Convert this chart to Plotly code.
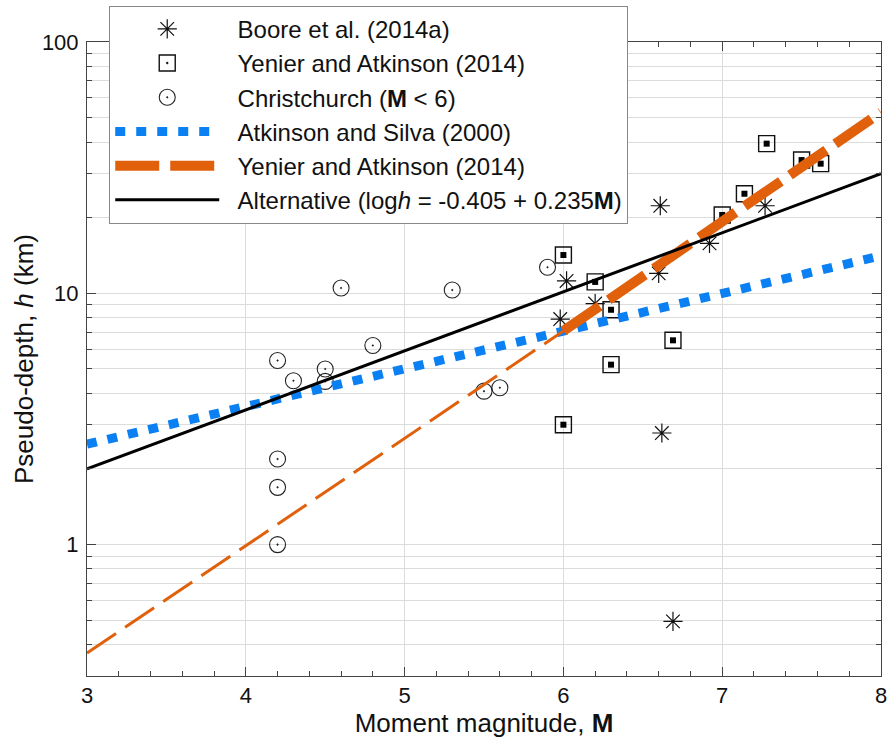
import plotly.graph_objects as go
import numpy as np

# ---- data ----
boore_M = [5.98, 6.02, 6.20, 6.60, 6.61, 6.92, 7.27, 6.62, 6.69]
boore_h = [7.9, 11.2, 9.1, 12.0, 22.3, 15.8, 22.3, 2.78, 0.495]

ya_M = [6.00, 6.20, 6.30, 6.69, 6.30, 6.00, 7.00, 7.14, 7.28, 7.50, 7.62]
ya_h = [14.2, 11.1, 8.6, 6.5, 5.2, 3.0, 20.5, 24.9, 39.4, 33.9, 32.8]

cc_M = [4.60, 5.30, 4.20, 4.80, 4.50, 4.30, 4.50, 5.50, 5.60, 4.20, 4.20, 4.20, 5.90]
cc_h = [10.5, 10.3, 5.4, 6.2, 5.0, 4.49, 4.46, 4.08, 4.21, 2.19, 1.69, 1.0, 12.7]

as2000_M = [3.0, 8.0]
as2000_h = [2.51, 14.1]

ya2014_low_M = [3.0, 6.0]
ya2014_low_h = [0.37, 7.08]
ya2014_high_M = [6.0, 8.0]
ya2014_high_h = [7.08, 52.5]

alt_M = [3.0, 8.0]
alt_h = [2.0, 29.9]

x_ticks = [3, 4, 5, 6, 7, 8]
y_ticks = [1, 10, 100]
y_ticklabels = ["1", "10", "100"]

BLUE = "#0A80F2"
ORANGE = "#E0600C"
FONT = "Arial, Liberation Sans, sans-serif"
PAD = "\u00a0\u00a0"

fig = go.Figure()

fig.add_trace(go.Scatter(
    x=boore_M, y=boore_h, mode="markers", name=PAD + "Boore et al. (2014a)",
    legendgroup="a",
    marker=dict(symbol="asterisk-open", size=16, color="#111",
                line=dict(width=1.2, color="#111"))))

fig.add_trace(go.Scatter(
    x=ya_M, y=ya_h, mode="markers", name=PAD + "Yenier and Atkinson (2014)",
    legendgroup="b",
    marker=dict(symbol="square-open-dot", size=16, color="#111",
                line=dict(width=1.4, color="#111"))))
fig.add_trace(go.Scatter(
    x=ya_M, y=ya_h, mode="markers", showlegend=False, legendgroup="b",
    marker=dict(symbol="square", size=6, color="#000")))

fig.add_trace(go.Scatter(
    x=cc_M, y=cc_h, mode="markers", name=PAD + "Christchurch (<b>M</b> &lt; 6)",
    legendgroup="c",
    marker=dict(symbol="circle-open-dot", size=16, color="#222",
                line=dict(width=1.1, color="#222"))))

fig.add_trace(go.Scatter(
    x=as2000_M, y=as2000_h, mode="lines", name=PAD + "Atkinson and Silva (2000)",
    legendgroup="d",
    line=dict(color=BLUE, width=9, dash="10px,11px")))

fig.add_trace(go.Scatter(
    x=ya2014_low_M, y=ya2014_low_h, mode="lines", showlegend=False,
    legendgroup="e",
    line=dict(color=ORANGE, width=3, dash="35px,11px")))
fig.add_trace(go.Scatter(
    x=ya2014_high_M, y=ya2014_high_h, mode="lines", name=PAD + "Yenier and Atkinson (2014)",
    legendgroup="e",
    line=dict(color=ORANGE, width=10, dash="44px,11px")))

fig.add_trace(go.Scatter(
    x=alt_M, y=alt_h, mode="lines",
    name=PAD + "Alternative (log<i>h</i> = -0.405 + 0.235<b>M</b>)",
    legendgroup="f",
    line=dict(color="#000", width=3)))

fig.update_layout(
    width=888, height=738,
    margin=dict(l=87, r=7, t=41, b=62),
    paper_bgcolor="white", plot_bgcolor="white",
    font=dict(family=FONT, color="#111"),
    showlegend=True,
    legend=dict(
        x=0.028, y=1.0555, xanchor="left", yanchor="top",
        bgcolor="white", bordercolor="#888", borderwidth=1,
        font=dict(size=24, family=FONT, color="#111"),
        itemwidth=104, traceorder="grouped", tracegroupgap=0,
    ),
)

fig.update_xaxes(
    range=[3, 8], tickvals=x_ticks, ticks="inside", ticklen=9,
    tickcolor="#444", linecolor="#444", linewidth=1, mirror="ticks",
    showline=True, showgrid=True, gridcolor="#dcdcdc", gridwidth=1,
    tickfont=dict(size=22, family=FONT, color="#111"),
    minor=dict(dtick=0.2, ticks="inside", ticklen=5, tickcolor="#444", showgrid=False),
    title=dict(text="Moment magnitude, <b>M</b>", font=dict(size=26, family=FONT, color="#111"),
               standoff=0),
    automargin=False,
    zeroline=False,
)

fig.update_yaxes(
    type="log", range=[np.log10(0.3), 2], tickvals=y_ticks, ticktext=y_ticklabels,
    ticks="inside", ticklen=9, ticklabelstandoff=3,
    tickcolor="#444", linecolor="#444", linewidth=1, mirror="ticks",
    showline=True, showgrid=True, gridcolor="#dcdcdc", gridwidth=1,
    tickfont=dict(size=22, family=FONT, color="#111"),
    minor=dict(dtick="D1", ticks="inside", ticklen=5, tickcolor="#444",
               showgrid=True, gridcolor="#dcdcdc", gridwidth=1),
    title=dict(text="Pseudo-depth, <i>h</i> (km)", font=dict(size=26, family=FONT, color="#111"),
               standoff=0),
    automargin=False,
    zeroline=False,
)

fig.write_html(
    "out.html",
    config={"displayModeBar": False},
    post_script="document.body.style.margin='0';document.body.style.overflow='hidden';",
)
